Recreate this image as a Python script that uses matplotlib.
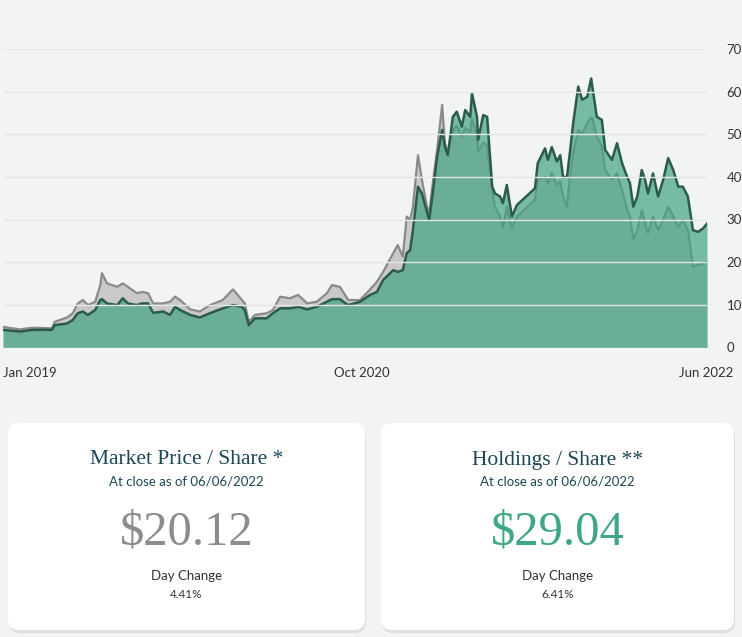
import matplotlib as mpl
mpl.use('Agg')
import matplotlib.pyplot as plt
import matplotlib.transforms as mtransforms
from matplotlib.patches import FancyBboxPatch
import pandas as pd

# values (USD per share)
dates = ['2019-01-01', '2019-01-31', '2019-02-23', '2019-03-29', '2019-04-03', '2019-04-25',
         '2019-05-05', '2019-05-14', '2019-05-23', '2019-06-01', '2019-06-14', '2019-06-23',
         '2019-06-26', '2019-07-05', '2019-07-23', '2019-08-02', '2019-08-11', '2019-08-27',
         '2019-09-05', '2019-09-16', '2019-09-25', '2019-10-13', '2019-10-25', '2019-11-03',
         '2019-11-12', '2019-11-30', '2019-12-17', '2020-01-04', '2020-01-27', '2020-02-14',
         '2020-03-01', '2020-03-06', '2020-03-13', '2020-03-24', '2020-04-14', '2020-04-25',
         '2020-05-08', '2020-05-25', '2020-06-09', '2020-06-25', '2020-07-12', '2020-07-30',
         '2020-08-08', '2020-08-22', '2020-09-06', '2020-09-27', '2020-10-15', '2020-10-27',
         '2020-11-07', '2020-11-25', '2020-12-03', '2020-12-12', '2020-12-19', '2020-12-25',
         '2020-12-30', '2021-01-08', '2021-01-15', '2021-01-24', '2021-01-28', '2021-02-04',
         '2021-02-11', '2021-02-20', '2021-02-25', '2021-03-02', '2021-03-11', '2021-03-18',
         '2021-03-27', '2021-04-02', '2021-04-11', '2021-04-14', '2021-04-23', '2021-04-25',
         '2021-05-04', '2021-05-11', '2021-05-20', '2021-05-25', '2021-06-03', '2021-06-08',
         '2021-06-15', '2021-06-24', '2021-07-03', '2021-08-04', '2021-08-09', '2021-08-22',
         '2021-08-27', '2021-09-03', '2021-09-12', '2021-09-18', '2021-09-23', '2021-09-30',
         '2021-10-05', '2021-10-11', '2021-10-20', '2021-10-27', '2021-11-05', '2021-11-12',
         '2021-11-15', '2021-11-22', '2021-12-01', '2021-12-07', '2021-12-19', '2021-12-28',
         '2022-01-06', '2022-01-15', '2022-01-20', '2022-01-26', '2022-02-02', '2022-02-10',
         '2022-02-16', '2022-02-21', '2022-03-02', '2022-03-11', '2022-03-20', '2022-03-29',
         '2022-04-07', '2022-04-16', '2022-04-24', '2022-05-03', '2022-05-12', '2022-05-21',
         '2022-05-30', '2022-06-06']

holdings = [4.1, 3.7, 4.1, 4.1, 5.2, 5.6,
            6.4, 8.0, 8.4, 7.6, 8.75, 11.1,
            11.3, 10.3, 9.9, 11.5, 10.3, 9.9,
            10.3, 10.3, 8.1, 8.4, 7.6, 9.5,
            8.75, 7.6, 7.0, 8.0, 9.15, 9.9,
            9.5, 8.75, 5.2, 6.8, 6.8, 8.0,
            9.15, 9.15, 9.5, 8.9, 9.5, 10.7,
            11.3, 11.3, 9.9, 10.7, 12.3, 13.0,
            15.8, 18.1, 17.7, 18.1, 22.1, 22.8,
            27.5, 37.7, 36.1, 31.8, 29.9, 36.9,
            44.7, 51.0, 47.1, 45.1, 54.1, 55.3,
            51.8, 55.7, 54.1, 59.6, 54.1, 48.7,
            54.5, 54.1, 37.7, 36.1, 35.4, 33.8,
            38.1, 30.7, 33.4, 37.3, 43.2, 46.7,
            44.0, 47.0, 43.6, 45.1, 40.0, 40.0,
            45.5, 52.6, 61.2, 58.1, 58.8, 63.1,
            60.4, 54.1, 53.4, 46.3, 44.0, 47.9,
            43.2, 40.0, 38.5, 33.0, 35.4, 41.6,
            39.3, 36.1, 40.8, 35.4, 39.3, 44.4,
            41.6, 37.7, 37.7, 35.4, 27.5, 27.1,
            27.9, 29.04]

market = [4.8, 4.2, 4.6, 4.45, 6.0, 7.0,
          8.0, 10.3, 11.1, 9.9, 10.7, 14.6,
          17.4, 15.0, 14.2, 15.0, 14.2, 12.7,
          13.0, 12.7, 10.3, 10.3, 10.7, 11.9,
          11.1, 8.9, 8.4, 9.9, 11.1, 13.6,
          11.1, 10.3, 6.0, 7.6, 8.0, 8.75,
          11.9, 11.5, 12.3, 10.3, 10.7, 12.7,
          14.6, 14.2, 11.1, 11.1, 13.6, 15.4,
          17.7, 22.1, 24.0, 21.3, 30.7, 29.9,
          33.0, 45.1, 39.3, 33.0, 31.5, 39.3,
          46.3, 56.9, 47.9, 45.5, 51.0, 52.0,
          49.4, 51.5, 50.5, 53.5, 50.0, 45.9,
          48.0, 47.5, 36.9, 33.0, 30.7, 27.9,
          33.0, 27.9, 30.7, 34.6, 39.3, 40.0,
          38.5, 40.9, 38.1, 39.0, 35.4, 33.0,
          40.0, 45.5, 51.0, 50.2, 52.6, 54.0,
          53.4, 49.4, 47.1, 41.6, 39.3, 40.8,
          36.9, 32.2, 30.7, 25.2, 27.5, 32.2,
          29.1, 26.8, 30.7, 27.5, 29.9, 33.0,
          30.7, 28.3, 29.9, 27.5, 18.9, 19.3,
          19.7, 20.12]

y_ticks = [0, 10, 20, 30, 40, 50, 60, 70]
x_tick_dates = ['2019-01-01', '2020-10-01', '2022-06-06']
x_tick_labels = ['Jan 2019', 'Oct 2020', 'Jun 2022']

cards = [
    ('Market Price / Share *', '$20.12', '4.41%', '#8c8c8c'),
    ('Holdings / Share **', '$29.04', '6.41%', '#3fa688'),
]
as_of = 'At close as of 06/06/2022'

W, H = 742, 637
bgcol = '#f1f3f5'
sans = ['Lato', 'DejaVu Sans']
serif = ['Liberation Serif', 'DejaVu Serif']

fig = plt.figure(figsize=(W / 100, H / 100), dpi=100)
fig.patch.set_facecolor(bgcol)

# pixel-space layer for the cards
bg = fig.add_axes([0, 0, 1, 1], zorder=0)
bg.set_xlim(0, W)
bg.set_ylim(H, 0)
bg.axis('off')

# chart
ax = fig.add_axes([3 / W, 1 - 347.3 / H, 704 / W, 298.2 / H], zorder=1)
ax.patch.set_alpha(0)
t = pd.to_datetime(dates)
ax.fill_between(t, market, color='#c9c9cb', lw=0, zorder=1)
ax.plot(t, market, color='#8a8a8a', lw=1.6, zorder=2)
ax.fill_between(t, holdings, color='#44a383', alpha=0.7, lw=0, zorder=3)
ax.plot(t, holdings, color='#2b5b4c', lw=1.8, zorder=4)
for v in y_ticks[1:]:
    ax.axhline(v, color='#e4e7ea', lw=1, zorder=5)
ax.set_xlim(t[0], t[-1])
ax.set_ylim(0, 70)
for s in ax.spines.values():
    s.set_visible(False)
ax.yaxis.tick_right()
ax.set_yticks(y_ticks)
ax.tick_params(axis='y', length=0, pad=14, labelsize=9.5, labelcolor='#333333')
ax.set_xticks(pd.to_datetime(x_tick_dates))
ax.set_xticklabels(x_tick_labels)
ax.tick_params(axis='x', length=0, pad=14, labelsize=9.5, labelcolor='#333333')
for lab in ax.get_yticklabels() + ax.get_xticklabels():
    lab.set_family(sans)
xl = ax.get_xticklabels()
xl[0].set_ha('left')
xl[-1].set_ha('right')
xl[-1].set_transform(xl[-1].get_transform() +
                     mtransforms.ScaledTranslation(26 / 100, 0, fig.dpi_scale_trans))

# cards
for i, (title, price, change, pcol) in enumerate(cards):
    x0 = 8 if i == 0 else 381
    w = 357 if i == 0 else 353
    y0, h = 423, 207
    shadow = FancyBboxPatch((x0 + 1, y0 + 3), w, h, boxstyle='round,pad=0,rounding_size=11',
                            fc='#d5d8dc', ec='none', alpha=0.7, zorder=1)
    bg.add_patch(shadow)
    card = FancyBboxPatch((x0, y0), w, h, boxstyle='round,pad=0,rounding_size=11',
                          fc='white', ec='none', zorder=2)
    bg.add_patch(card)
    cx = x0 + w / 2
    bg.text(cx, 460, title, ha='center', va='center', fontsize=15.5, family=serif,
            color='#1d4756', zorder=3)
    bg.text(cx, 481, as_of, ha='center', va='center', fontsize=9.5, family=sans,
            color='#1d4756', zorder=3)
    bg.text(cx, 532, price, ha='center', va='center', fontsize=35, family=serif,
            color=pcol, zorder=3)
    bg.text(cx, 576, 'Day Change', ha='center', va='center', fontsize=9.5, family=sans,
            color='#333333', zorder=3)
    bg.text(cx, 595, change, ha='center', va='center', fontsize=8.5, family=sans,
            color='#333333', zorder=3)

fig.savefig('out.png', dpi=100, facecolor=bgcol)
